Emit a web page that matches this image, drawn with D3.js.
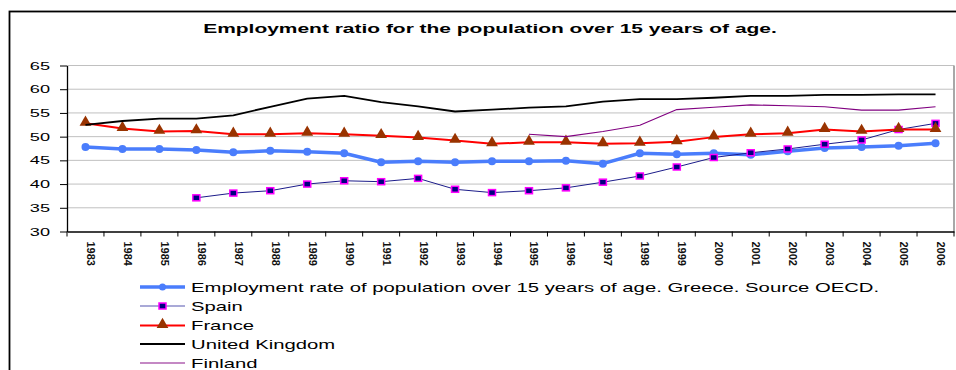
<!DOCTYPE html>
<html>
<head>
<meta charset="utf-8">
<script src="https://cdn.jsdelivr.net/npm/d3@7"></script>
<style>
  body { margin: 0; background: #fff; }
  svg { display: block; font-family: "Liberation Sans", Arial, sans-serif; }
</style>
</head>
<body>
<svg id="chart" width="956" height="370"></svg>
<script>
var years = d3.range(1983, 2007).map(String);
var yTicks = [30, 35, 40, 45, 50, 55, 60, 65];

var greece = [47.8, 47.4, 47.4, 47.2, 46.7, 47.0, 46.8, 46.5, 44.6, 44.8, 44.6, 44.8,
              44.8, 44.9, 44.3, 46.5, 46.3, 46.5, 46.2, 46.9, 47.6, 47.8, 48.1, 48.6];
var spain = [null, null, null, 37.1, 38.1, 38.6, 40.0, 40.7, 40.5, 41.2, 38.9, 38.2,
             38.6, 39.2, 40.4, 41.7, 43.6, 45.6, 46.6, 47.4, 48.4, 49.3, 51.5, 52.8];
var france = [52.8, 51.7, 51.1, 51.2, 50.5, 50.5, 50.7, 50.5, 50.2, 49.8, 49.2, 48.5,
              48.8, 48.8, 48.5, 48.6, 48.9, 49.9, 50.5, 50.7, 51.5, 51.1, 51.5, 51.5];
var uk = [52.5, 53.3, 53.8, 53.8, 54.5, 56.3, 58.0, 58.6, 57.3, 56.4, 55.3, 55.7,
          56.1, 56.4, 57.4, 57.9, 57.9, 58.2, 58.6, 58.6, 58.8, 58.8, 58.9, 58.9];
var finland = [null, null, null, null, null, null, null, null, null, null, null, null,
               50.5, 50.0, 51.1, 52.4, 55.7, 56.2, 56.7, 56.5, 56.3, 55.6, 55.6, 56.3];

var seriesNames = ["Employment rate of population over 15 years of age. Greece. Source OECD.",
                   "Spain", "France", "United Kingdom", "Finland"];

var svg = d3.select("#chart");

// outer frame
svg.append("rect").attr("x", 9.5).attr("y", 11.5).attr("width", 1000).attr("height", 400)
  .attr("fill", "none").attr("stroke", "#000").attr("stroke-width", 1.8);

var plotLeft = 67, plotRight = 954, plotTop = 65.5, plotBottom = 231.5;

var x = d3.scaleBand().domain(years).range([plotLeft, plotRight]);
var y = d3.scaleLinear().domain([30, 65]).range([plotBottom, plotTop]);

// title
var title = svg.append("g");
var titleText = title.append("text").text("Employment ratio for the population over 15 years of age.")
  .attr("font-size", 13).attr("font-weight", "bold").attr("text-anchor", "middle");
var tw = titleText.node().getComputedTextLength();
title.attr("transform", "translate(490,33) scale(" + (574 / tw) + ",1)");

// grid
svg.append("g").selectAll("line").data(yTicks.slice(1)).enter().append("line")
  .attr("x1", plotLeft).attr("x2", plotRight)
  .attr("y1", function (d) { return y(d); }).attr("y2", function (d) { return y(d); })
  .attr("stroke", "#c0c0c0").attr("stroke-width", 1);

// plot border (right)
svg.append("line").attr("x1", plotRight).attr("x2", plotRight).attr("y1", plotTop).attr("y2", plotBottom)
  .attr("stroke", "#a8a8a8").attr("stroke-width", 2);

// y axis
var yAxis = svg.append("g").attr("transform", "translate(" + plotLeft + ",0)")
  .call(d3.axisLeft(y).tickValues(yTicks).tickSizeInner(7).tickSizeOuter(0));
yAxis.select(".domain").attr("stroke", "#000").attr("stroke-width", 1.3);
yAxis.selectAll(".tick line").attr("stroke", "#000");
yAxis.selectAll(".tick text").attr("x", 0).attr("font-size", 11).attr("fill", "#000")
  .attr("font-family", "\"Liberation Sans\", Arial, sans-serif")
  .attr("transform", "translate(-17,0) scale(1.65,1)");

// x axis
var xAxis = svg.append("g").attr("transform", "translate(0," + plotBottom + ")")
  .call(d3.axisBottom(x).tickSize(0));
xAxis.select(".domain").attr("stroke", "#000").attr("stroke-width", 1.3);
xAxis.selectAll(".tick text").attr("font-size", 11).attr("font-weight", "bold").attr("fill", "#111")
  .attr("font-family", "\"Liberation Sans Narrow\", \"Liberation Sans\", Arial, sans-serif")
  .attr("text-anchor", "start").attr("dy", null)
  .attr("transform", "rotate(90)").attr("x", 10).attr("y", -1.5);
xAxis.append("g").selectAll("line").data(years.concat(["end"])).enter().append("line")
  .attr("x1", function (d) { return d === "end" ? plotRight : x(d); })
  .attr("x2", function (d) { return d === "end" ? plotRight : x(d); })
  .attr("y1", 0).attr("y2", 5).attr("stroke", "#000");

var cx = function (i) { return x(years[i]) + x.bandwidth() / 2; };

function drawLine(vals, color, width) {
  var line = d3.line()
    .defined(function (d) { return d != null; })
    .x(function (d, i) { return cx(i); })
    .y(function (d) { return y(d); });
  svg.append("path").datum(vals).attr("d", line)
    .attr("fill", "none").attr("stroke", color).attr("stroke-width", width)
    .attr("stroke-linejoin", "round");
}

function present(vals) {
  return vals.map(function (d, i) { return { v: d, i: i }; }).filter(function (d) { return d.v != null; });
}

var triangle = d3.symbol().type(d3.symbolTriangle).size(60);

// Greece
drawLine(greece, "#4a7dfc", 3.5);
svg.append("g").selectAll("circle").data(present(greece)).enter().append("circle")
  .attr("cx", function (d) { return cx(d.i); }).attr("cy", function (d) { return y(d.v); })
  .attr("r", 4).attr("fill", "#4a7dfc");

// Spain
drawLine(spain, "#1c1c8a", 1);
svg.append("g").selectAll("rect").data(present(spain)).enter().append("rect")
  .attr("x", function (d) { return cx(d.i) - 3.5; }).attr("y", function (d) { return y(d.v) - 3; })
  .attr("width", 7).attr("height", 6)
  .attr("fill", "#000080").attr("stroke", "#ff00ff").attr("stroke-width", 1.5);

// France
drawLine(france, "#ff0000", 2);
svg.append("g").selectAll("path").data(present(france)).enter().append("path")
  .attr("d", triangle)
  .attr("transform", function (d) { return "translate(" + cx(d.i) + "," + (y(d.v) - 1) + ")"; })
  .attr("fill", "#993300");

// UK
drawLine(uk, "#000", 1.8);

// Finland
drawLine(finland, "#800080", 1.1);

// legend
var legend = svg.append("g");
var rowsY = [287, 306, 325.5, 344, 363];
var styles = [
  { color: "#4a7dfc", width: 3.5 },
  { color: "#5555b0", width: 1.2 },
  { color: "#ff0000", width: 2 },
  { color: "#000", width: 2 },
  { color: "#b060b0", width: 1.5 }
];
seriesNames.forEach(function (name, k) {
  var row = legend.append("g").attr("transform", "translate(0," + rowsY[k] + ")");
  row.append("line").attr("x1", 140).attr("x2", 185).attr("y1", 0).attr("y2", 0)
    .attr("stroke", styles[k].color).attr("stroke-width", styles[k].width);
  if (k === 0) {
    row.append("circle").attr("cx", 162.5).attr("cy", 0).attr("r", 3.5).attr("fill", "#4a7dfc");
  } else if (k === 1) {
    row.append("rect").attr("x", 159).attr("y", -3).attr("width", 7).attr("height", 6)
      .attr("fill", "#000080").attr("stroke", "#ff00ff").attr("stroke-width", 1.5);
  } else if (k === 2) {
    row.append("path").attr("d", triangle).attr("transform", "translate(162.5,-1)").attr("fill", "#993300");
  }
  row.append("g").attr("class", "lt").attr("transform", "translate(191,0)")
    .append("text").text(name).attr("font-size", 13).attr("dy", "0.36em").attr("fill", "#000");
});
var lw = legend.select(".lt text").node().getComputedTextLength();
var sx = 689 / lw;
legend.selectAll(".lt").attr("transform", "translate(191,0) scale(" + sx + ",1)");
</script>
</body>
</html>
